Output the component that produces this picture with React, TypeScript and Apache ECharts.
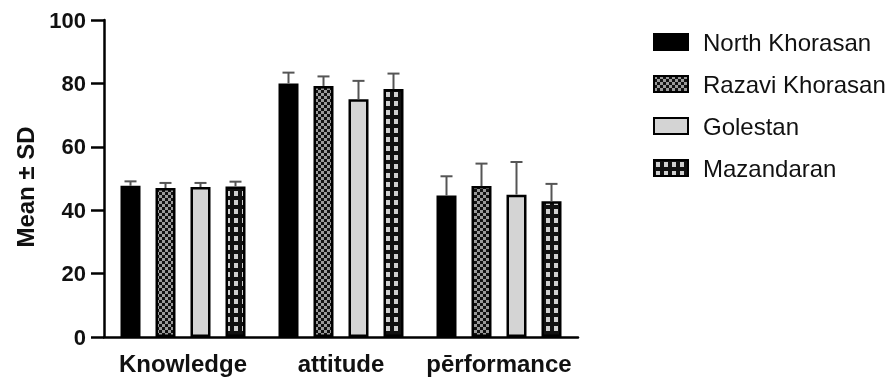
import React, { useEffect, useRef } from "react";
import * as echarts from "echarts";

const categories = ["Knowledge", "attitude", "pērformance"];
const seriesNames = ["North Khorasan", "Razavi Khorasan", "Golestan", "Mazandaran"];
const northMean = [47.7, 80.0, 44.6];
const northSD = [1.4, 3.4, 6.1];
const razaviMean = [47.0, 79.2, 47.6];
const razaviSD = [1.6, 3.0, 7.1];
const golestanMean = [47.3, 75.0, 44.9];
const golestanSD = [1.3, 5.8, 10.3];
const mazandaranMean = [47.5, 78.2, 42.8];
const mazandaranSD = [1.5, 4.9, 5.5];
const yTicks = [0, 20, 40, 60, 80, 100];
const yTitle = "Mean ± SD";

const FONT = "'Liberation Sans', Arial, Helvetica, sans-serif";

function makeChecker(): HTMLCanvasElement {
  const c = document.createElement("canvas");
  c.width = 6;
  c.height = 6;
  const g = c.getContext("2d")!;
  g.fillStyle = "#111";
  g.fillRect(0, 0, 6, 6);
  g.fillStyle = "#9a9a9a";
  g.fillRect(0, 0, 3, 3);
  g.fillRect(3, 3, 3, 3);
  return c;
}

function makeGrid(): HTMLCanvasElement {
  const c = document.createElement("canvas");
  c.width = 8;
  c.height = 9;
  const g = c.getContext("2d")!;
  g.fillStyle = "#111";
  g.fillRect(0, 0, 8, 9);
  g.fillStyle = "#d0d0d0";
  g.fillRect(2, 2, 4, 5);
  return c;
}

export default function App() {
  const ref = useRef<HTMLDivElement>(null);
  useEffect(() => {
    if (!ref.current) return;
    const chart = echarts.init(ref.current, undefined, { renderer: "svg" });
    const barWidth = 20;
    const gapPx = 15;
    const means = [northMean, razaviMean, golestanMean, mazandaranMean];
    const sds = [northSD, razaviSD, golestanSD, mazandaranSD];
    const fills: any[] = [
      "#000",
      { image: makeChecker(), repeat: "repeat" },
      "#d4d4d4",
      { image: makeGrid(), repeat: "repeat" },
    ];
    const barSeries = seriesNames.map((name, i) => ({
      name,
      type: "bar",
      data: means[i],
      barWidth,
      barGap: (gapPx / barWidth) * 100 + "%",
      itemStyle: { color: fills[i], borderColor: "#000", borderWidth: 2.5 },
      z: 2,
    }));
    const errSeries = seriesNames.map((name, i) => ({
      name: name + " SD",
      type: "custom",
      z: 3,
      data: means[i].map((m, j) => [j, m, sds[i][j]]),
      encode: { x: 0, y: 1 },
      renderItem: (params: any, api: any) => {
        const cat = api.value(0);
        const m = api.value(1);
        const sd = api.value(2);
        const base = api.coord([cat, m]);
        const top = api.coord([cat, m + sd]);
        const off = (i - 1.5) * (barWidth + gapPx);
        const x = base[0] + off;
        const cap = 6;
        return {
          type: "group",
          children: [
            { type: "line", shape: { x1: x, y1: base[1], x2: x, y2: top[1] }, style: { stroke: "#555", lineWidth: 2 } },
            { type: "line", shape: { x1: x - cap, y1: top[1], x2: x + cap, y2: top[1] }, style: { stroke: "#555", lineWidth: 2 } },
          ],
        };
      },
    }));
    chart.setOption({
      animation: false,
      grid: { left: 104, right: 317, top: 20, bottom: 41, containLabel: false },
      graphic: [
        {
          type: "text",
          x: 25,
          y: 187,
          rotation: Math.PI / 2,
          style: {
            text: yTitle,
            align: "center",
            verticalAlign: "middle",
            fontFamily: FONT,
            fontWeight: "bold",
            fontSize: 24,
            fill: "#111",
          },
        },
      ],
      legend: {
        data: seriesNames,
        orient: "vertical",
        left: 648,
        top: 23,
        itemWidth: 34,
        itemHeight: 16,
        itemGap: 14,
        icon: "rect",
        textStyle: { fontFamily: FONT, fontSize: 24, color: "#111", lineHeight: 28, padding: [0, 0, 0, 10] },
      },
      xAxis: {
        type: "category",
        data: categories,
        axisLine: { lineStyle: { color: "#000", width: 2.5 } },
        axisTick: { alignWithLabel: true, length: 10, lineStyle: { color: "#000", width: 2.5 } },
        axisLabel: { interval: 0, fontFamily: FONT, fontWeight: "bold", fontSize: 24, color: "#111", margin: 14 },
      },
      yAxis: {
        type: "value",
        min: 0,
        max: 100,
        interval: 20,
        axisLine: { show: true, lineStyle: { color: "#000", width: 2.5 } },
        axisTick: { show: true, length: 13, lineStyle: { color: "#000", width: 2.5 } },
        axisLabel: {
          fontFamily: FONT,
          fontWeight: "bold",
          fontSize: 22,
          color: "#111",
          margin: 18,
          formatter: (v: number) => (yTicks.includes(v) ? String(v) : ""),
        },
        splitLine: { show: false },
      },
      series: [...barSeries, ...errSeries],
    });
    return () => chart.dispose();
  }, []);
  return <div ref={ref} style={{ position: "fixed", left: 0, top: 0, width: 895, height: 378 }} />;
}
